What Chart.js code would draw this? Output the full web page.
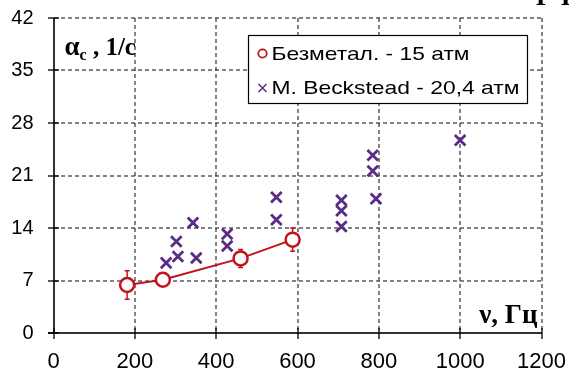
<!DOCTYPE html>
<html>
<head>
<meta charset="utf-8">
<script src="https://cdn.jsdelivr.net/npm/chart.js@4/dist/chart.umd.min.js"></script>
<style>
html,body{margin:0;padding:0;background:#fff;}
</style>
</head>
<body>
<canvas id="c" width="569" height="374"></canvas>
<script>
// ---- data ----
const xTicks = [0, 200, 400, 600, 800, 1000, 1200];
const yTicks = [0, 7, 14, 21, 28, 35, 42];

const seriesNames = ["Безметал. - 15 атм", "M. Beckstead - 20,4 атм"];

const metalFreeX = [181, 269, 460, 588];
const metalFreeY = [6.4, 7.1, 9.95, 12.45];
const metalFreeErr = [1.9, 0, 1.2, 1.55];

const beckX = [277, 302, 306, 343, 351, 427, 427, 548, 548, 708, 708, 708, 785, 785, 793, 1000];
const beckY = [9.35, 12.2, 10.2, 14.7, 10.0, 13.2, 11.6, 18.1, 15.1, 17.7, 16.3, 14.2, 23.7, 21.6, 17.9, 25.7];

const yTitle = "α";
const yTitleSub = "c";
const yTitleRest = " , 1/с";
const xTitle = "ν, Гц";

const RED = "#C0141C";
const PURPLE = "#5A2D84";

function fillTextW(ctx, text, x, y, targetW) {
  const w = ctx.measureText(text).width;
  ctx.save();
  ctx.translate(x, y);
  ctx.scale(targetW / w, 1);
  ctx.fillText(text, 0, 0);
  ctx.restore();
}

const overlay = {
  id: 'overlay',
  beforeDatasetsDraw() {
    return false; // datasets are drawn in afterDraw, above the grid
  },
  afterDraw(chart) {
    const ctx = chart.ctx, ca = chart.chartArea, xs = chart.scales.x, ys = chart.scales.y;
    const L = Math.round(ca.left), R = Math.round(ca.right), T = Math.round(ca.top), B = Math.round(ca.bottom);

    // dashed grid drawn as small filled dashes
    ctx.save();
    ctx.fillStyle = '#333333';
    xTicks.forEach(v => {
      if (v === xTicks[0]) return;
      const px = Math.round(xs.getPixelForValue(v));
      for (let y = T; y < B; y += 7) ctx.fillRect(px - 0.6, y, 1.2, Math.min(4, B - y));
    });
    yTicks.forEach(v => {
      if (v === yTicks[0]) return;
      const py = Math.round(ys.getPixelForValue(v));
      for (let x = L; x < R; x += 7) ctx.fillRect(x, py - 0.6, Math.min(4, R - x), 1.2);
    });

    // axes and crossing tick marks
    ctx.fillStyle = '#000000';
    ctx.fillRect(L - 0.8, T, 1.6, B - T + 0.8);
    ctx.fillRect(L - 6, B - 0.8, R - L + 6, 1.6);
    xTicks.forEach(v => {
      const px = Math.round(xs.getPixelForValue(v));
      ctx.fillRect(px - 0.65, B - 5, 1.3, 11);
    });
    yTicks.forEach(v => {
      const py = Math.round(ys.getPixelForValue(v));
      ctx.fillRect(L - 6, py - 0.65, 11, 1.3);
    });
    ctx.restore();

    // error bars
    ctx.save();
    ctx.strokeStyle = RED;
    ctx.lineWidth = 1.5;
    metalFreeX.forEach((x, i) => {
      const e = metalFreeErr[i];
      if (!e) return;
      const px = xs.getPixelForValue(x);
      const y1 = ys.getPixelForValue(metalFreeY[i] + e);
      const y2 = ys.getPixelForValue(metalFreeY[i] - e);
      ctx.beginPath(); ctx.moveTo(px, y1); ctx.lineTo(px, y2); ctx.stroke();
      ctx.beginPath(); ctx.moveTo(px - 2.5, y1); ctx.lineTo(px + 2.5, y1);
      ctx.moveTo(px - 2.5, y2); ctx.lineTo(px + 2.5, y2); ctx.stroke();
    });
    ctx.restore();

    // datasets (through the library's own controllers)
    const metas = chart.getSortedVisibleDatasetMetas();
    for (let i = metas.length - 1; i >= 0; --i) {
      ctx.save();
      metas[i].controller.draw();
      ctx.restore();
    }

    // titles
    ctx.save();
    ctx.fillStyle = '#000';
    ctx.textBaseline = 'alphabetic';
    ctx.font = 'bold 27px "Liberation Serif", "Times New Roman", serif';
    const x0 = ca.left + 11, by = 55;
    ctx.fillText(yTitle, x0, by);
    const w = ctx.measureText(yTitle).width;
    ctx.font = 'bold 16px "Liberation Serif", serif';
    ctx.fillText(yTitleSub, x0 + w, by + 5);
    const w2 = ctx.measureText(yTitleSub).width;
    ctx.font = 'bold 25px "Liberation Serif", serif';
    ctx.fillText(yTitleRest, x0 + w + w2, by);

    ctx.font = 'bold 27px "Liberation Serif", serif';
    ctx.textAlign = 'right';
    ctx.fillText(xTitle, ca.right - 4, 323);
    ctx.textAlign = 'left';

    ctx.font = 'bold 26px "Liberation Serif", serif';
    ctx.fillText("Г", 536, 5);
    ctx.fillText("Г", 561, 5);

    // legend
    const lx = 248.5, ly = 35.5, lw = 279, lh = 68;
    ctx.fillStyle = '#fff';
    ctx.fillRect(lx, ly, lw, lh);
    ctx.strokeStyle = '#000';
    ctx.lineWidth = 1.2;
    ctx.strokeRect(lx, ly, lw, lh);
    ctx.font = '18.5px "Liberation Sans", Arial, sans-serif';
    ctx.strokeStyle = RED; ctx.lineWidth = 1.8;
    ctx.beginPath(); ctx.arc(262.5, 53.5, 4.2, 0, Math.PI * 2);
    ctx.fillStyle = '#fff'; ctx.fill(); ctx.stroke();
    ctx.fillStyle = '#000';
    fillTextW(ctx, seriesNames[0], 271.5, 60, 198);
    ctx.strokeStyle = PURPLE; ctx.lineWidth = 1.5;
    ctx.beginPath();
    ctx.moveTo(258.5, 84); ctx.lineTo(266.5, 92);
    ctx.moveTo(266.5, 84); ctx.lineTo(258.5, 92);
    ctx.stroke();
    fillTextW(ctx, seriesNames[1], 271.5, 94, 248);
    ctx.restore();
  }
};

new Chart(document.getElementById('c'), {
  type: 'scatter',
  data: {
    datasets: [
      {
        label: seriesNames[0],
        data: metalFreeX.map((x, i) => ({x: x, y: metalFreeY[i]})),
        showLine: true,
        borderColor: RED,
        borderWidth: 2,
        pointRadius: 7,
        pointBorderWidth: 2.5,
        pointBackgroundColor: '#fff',
        pointBorderColor: RED
      },
      {
        label: seriesNames[1],
        data: beckX.map((x, i) => ({x: x, y: beckY[i]})),
        pointStyle: 'crossRot',
        pointRadius: 7.5,
        pointBorderWidth: 2.8,
        borderColor: PURPLE,
        backgroundColor: PURPLE
      }
    ]
  },
  options: {
    responsive: false, animation: false, devicePixelRatio: 1,
    layout: {padding: {top: 18, right: 27.5, left: 0, bottom: 0}},
    plugins: {legend: {display: false}, tooltip: {enabled: false}},
    scales: {
      x: {min: 0, max: 1200,
        afterBuildTicks: s => { s.ticks = xTicks.map(v => ({value: v})); },
        ticks: {color: '#000', font: {size: 22}, padding: 10, maxRotation: 0, callback: v => String(v)},
        grid: {display: true, drawOnChartArea: false, tickLength: 6, color: 'rgba(0,0,0,0)'},
        border: {display: false},
        afterFit: s => { s.height = 41; s.paddingLeft = 0; s.paddingRight = 0; }},
      y: {min: 0, max: 42,
        afterBuildTicks: s => { s.ticks = yTicks.map(v => ({value: v})); },
        ticks: {color: '#000', font: {size: 20}, padding: 14, callback: v => String(v)},
        grid: {display: true, drawOnChartArea: false, tickLength: 6, color: 'rgba(0,0,0,0)'},
        border: {display: false},
        afterFit: s => { s.width = 53.5; s.paddingTop = 0; s.paddingBottom = 0; }}
    }
  },
  plugins: [overlay]
});
</script>
</body>
</html>
